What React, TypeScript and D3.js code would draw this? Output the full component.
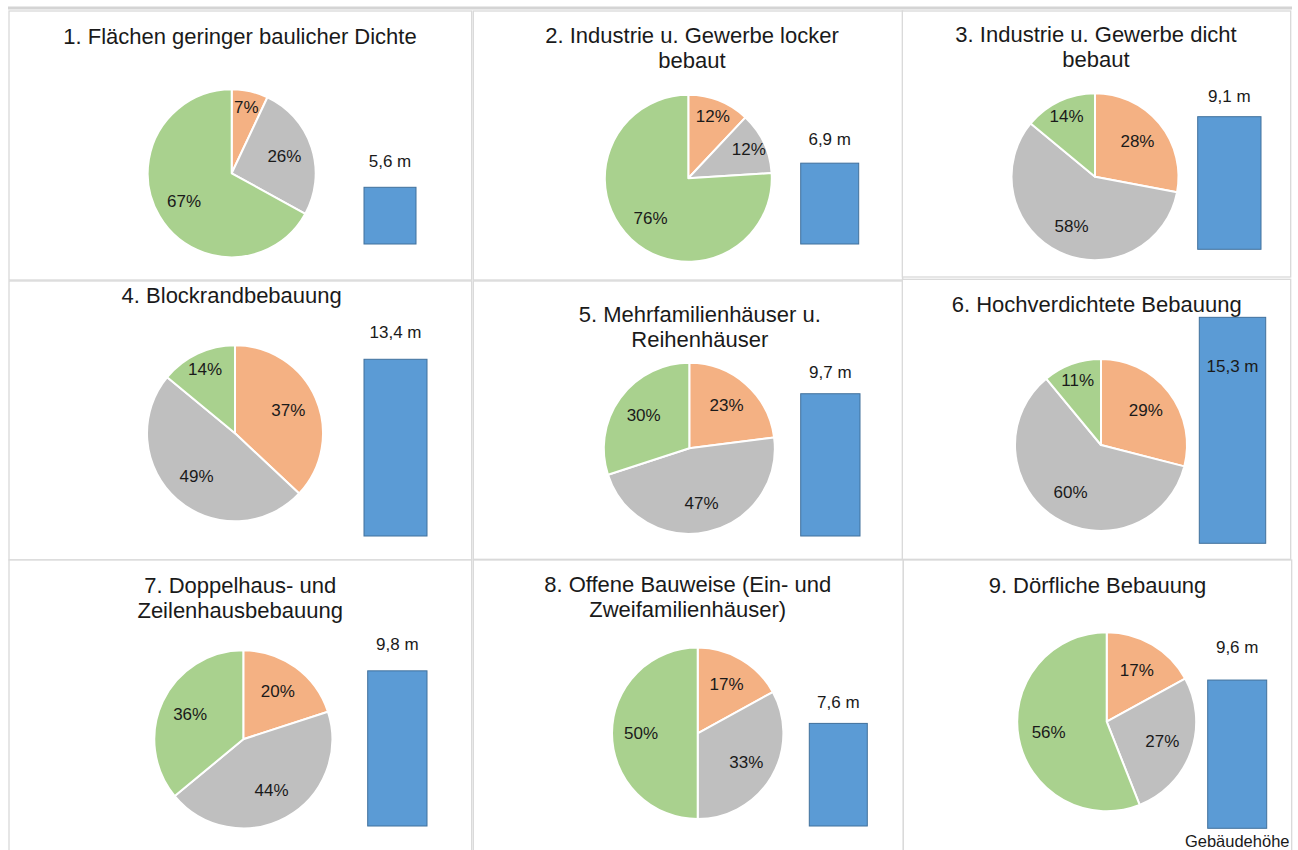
import React from "react";
import * as d3 from "d3";

// Anteile je Stadtstrukturtyp in %, im Uhrzeigersinn ab 12 Uhr: orange, grau, grün
const titles: string[][] = [
    ["1. Flächen geringer baulicher Dichte"],
    ["2. Industrie u. Gewerbe locker", "bebaut"],
    ["3. Industrie u. Gewerbe dicht", "bebaut"],
    ["4. Blockrandbebauung"],
    ["5. Mehrfamilienhäuser u.", "Reihenhäuser"],
    ["6. Hochverdichtete Bebauung"],
    ["7. Doppelhaus- und", "Zeilenhausbebauung"],
    ["8. Offene Bauweise (Ein- und", "Zweifamilienhäuser)"],
    ["9. Dörfliche Bebauung"],
];
const orangeShare = [7, 12, 28, 37, 23, 29, 20, 17, 17];
const grayShare = [26, 12, 58, 49, 47, 60, 44, 33, 27];
const greenShare = [67, 76, 14, 14, 30, 11, 36, 50, 56];
const buildingHeight = [5.6, 6.9, 9.1, 13.4, 9.7, 15.3, 9.8, 7.6, 9.6];
const barCaption = "Gebäudehöhe";

const sliceColors = ["#F4B183", "#BFBFBF", "#A9D18E"];
const barFill = "#5B9BD5";
const barStroke = "#41719C";
const textColor = "#1a1a1a";
const font = "'Liberation Sans', Arial, sans-serif";

// Placement of every small chart on the page (these are screenshots glued together)
interface PanelLayout {
    box: [number, number, number, number];
    titleX: number;
    titleY: number;
    cx: number;
    cy: number;
    r: number;
    barX: [number, number];
    barBottom: number;
    plotTop: number;
    axisMax: number;
    labelGap: number;
    labelMinY: number;
}

const layout: PanelLayout[] = [
    { box: [9, 11, 471.7, 280], titleX: 240, titleY: 44, cx: 231.7, cy: 173.3, r: 84, barX: [364, 416], barBottom: 244, plotTop: 82, axisMax: 16, labelGap: 20.6, labelMinY: 0 },
    { box: [473.3, 11, 902.7, 280], titleX: 692, titleY: 43.3, cx: 688.3, cy: 178.3, r: 83.5, barX: [800.7, 858.7], barBottom: 244, plotTop: 80, axisMax: 14, labelGap: 18.3, labelMinY: 0 },
    { box: [902.3, 11, 1290.7, 277], titleX: 1096, titleY: 42.3, cx: 1095, cy: 176.7, r: 83.5, barX: [1197.7, 1261], barBottom: 249.3, plotTop: 89, axisMax: 11, labelGap: 15, labelMinY: 0 },
    { box: [9, 281, 471.7, 560], titleX: 231.7, titleY: 303.3, cx: 235, cy: 433.3, r: 88, barX: [364, 427], barBottom: 536, plotTop: 325, axisMax: 16, labelGap: 21, labelMinY: 0 },
    { box: [473.3, 281, 902.7, 559.3], titleX: 699.8, titleY: 321.7, cx: 689.3, cy: 448.3, r: 85.5, barX: [800.7, 860], barBottom: 536, plotTop: 360, axisMax: 12, labelGap: 15.7, labelMinY: 0 },
    { box: [902.3, 279.3, 1290.7, 559.3], titleX: 1096.7, titleY: 311.7, cx: 1101, cy: 445, r: 86, barX: [1199.3, 1265.7], barBottom: 543.3, plotTop: 307, axisMax: 16, labelGap: 20, labelMinY: 371.7 },
    { box: [9, 560, 471.7, 870], titleX: 240.2, titleY: 592.7, cx: 243.3, cy: 739.3, r: 89, barX: [367.7, 427], barBottom: 826, plotTop: 636, axisMax: 12, labelGap: 20.7, labelMinY: 0 },
    { box: [473.3, 560, 903.3, 870], titleX: 687.7, titleY: 591.7, cx: 697.7, cy: 733.3, r: 85.7, barX: [809.3, 867.3], barBottom: 826, plotTop: 664, axisMax: 12, labelGap: 15, labelMinY: 0 },
    { box: [903.3, 560, 1291.7, 870], titleX: 1097.5, titleY: 592.7, cx: 1106.7, cy: 721.7, r: 89.5, barX: [1207.7, 1266.7], barBottom: 828.3, plotTop: 643, axisMax: 12, labelGap: 26.7, labelMinY: 0 },
];

const de = d3.formatLocale({ decimal: ",", thousands: ".", grouping: [3], currency: ["", " €"] });
const fmtHeight = de.format(".1f");

function Panel({ i }: { i: number }) {
    const L = layout[i];
    const shares = [orangeShare[i], grayShare[i], greenShare[i]];
    const total = d3.sum(shares);

    const pie = d3.pie<number>().sort(null).value((d) => d)(shares);
    const arc = d3.arc<d3.PieArcDatum<number>>().innerRadius(0).outerRadius(L.r);

    const y = d3.scaleLinear([0, L.axisMax], [L.barBottom, L.plotTop]);
    const barTop = y(buildingHeight[i]);
    const labelY = Math.max(barTop - L.labelGap, L.labelMinY);

    const [bx0, by0, bx1, by1] = L.box;

    return <g>
        <rect x={bx0} y={by0} width={bx1 - bx0} height={by1 - by0} fill="white" stroke="#D9D9D9" strokeWidth={1.3} />
        <text x={L.titleX} y={L.titleY} textAnchor="middle" fontSize={22} fill={textColor}>
            {titles[i].map((t, k) => <tspan key={k} x={L.titleX} dy={k === 0 ? 0 : 25}>{t}</tspan>)}
        </text>
        <g transform={`translate(${L.cx},${L.cy})`}>
            {pie.map((p, k) => (
                <path key={k} d={arc(p)!} fill={sliceColors[k]} stroke="white" strokeWidth={2} strokeLinejoin="round" />
            ))}
            {pie.map((p, k) => {
                const mid = (p.startAngle + p.endAngle) / 2;
                const f = p.value / total < 0.15 ? 0.8 : 0.66;
                const lr = L.r * f;
                return <text key={k} x={Math.sin(mid) * lr} y={-Math.cos(mid) * lr}
                    textAnchor="middle" dominantBaseline="central" fontSize={17} fill={textColor}>
                    {p.value}%
                </text>;
            })}
        </g>
        <rect x={L.barX[0]} y={barTop} width={L.barX[1] - L.barX[0]} height={L.barBottom - barTop}
            fill={barFill} stroke={barStroke} strokeWidth={1} />
        <text x={(L.barX[0] + L.barX[1]) / 2} y={labelY} textAnchor="middle" fontSize={17} fill={textColor}>
            {fmtHeight(buildingHeight[i])} m
        </text>
    </g>;
}

export default function App() {
    const W = 1298, H = 850;
    const last = layout[layout.length - 1];
    return <svg width={W} height={H} style={{ position: "absolute", left: 0, top: 0, fontFamily: font, background: "white" }}>
        <rect x={0} y={0} width={W} height={H} fill="white" />
        <line x1={8} x2={1292} y1={8} y2={8} stroke="#D4D4D4" strokeWidth={3} />
        {titles.map((_, i) => <Panel key={i} i={i} />)}
        <text x={(last.barX[0] + last.barX[1]) / 2} y={847} textAnchor="middle" fontSize={16.5} fill={textColor}>
            {barCaption}
        </text>
    </svg>;
}
